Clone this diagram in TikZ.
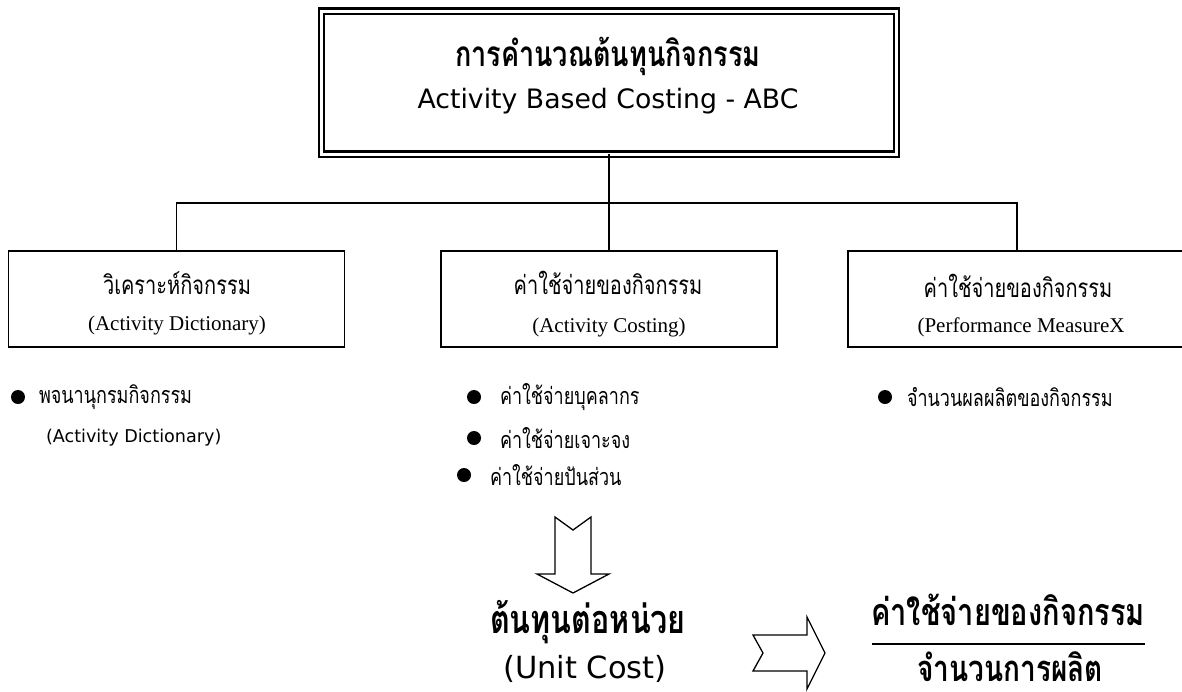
\documentclass[tikz,border=0pt]{standalone}
\usepackage{fontspec}
\usepackage{graphicx}
\setmainfont{Liberation Serif}
\newfontfamily\thaisans[Script=Thai]{Loma}
\newfontfamily\latinsans{DejaVu Sans}
\newcommand{\fs}[1]{\fontsize{#1}{#1}\selectfont}
% Thai lines are set a little taller than the face draws them
\newcommand{\tall}[1]{\scalebox{1}[1.3]{#1}}
\begin{document}
\begin{tikzpicture}[x=1pt,y=-1pt,
  every node/.style={inner sep=0pt, outer sep=0pt},
  titlebox/.style={draw, line width=2.2pt, double, double distance=3pt,
    minimum width=575pt, minimum height=143pt},
  topicbox/.style={draw, line width=1.6pt, minimum width=336pt, minimum height=96pt},
  link/.style={line width=1.5pt},
  dot/.style={circle, fill=black, minimum size=14pt},
  blockarrow/.style={draw, line width=1.3pt, fill=white, line join=miter},
  thaiserif/.style={font=\thaisans\fs{20}},
  latinserif/.style={font=\rmfamily\fs{21}},
  item/.style={anchor=west, font=\thaisans\fs{18}},
]
\useasboundingbox (0,0) rectangle (1182,691);

% title box with its double frame
\node[titlebox] (top) at (609,82.5) {};
\node[font=\thaisans\bfseries\fs{27}] (t1) at (608,56) {\tall{การคำนวณต้นทุนกิจกรรม}};
\node[font=\latinsans\fs{26.7}] (t2) at (608,101) {Activity Based Costing - ABC};

% three topic boxes
\node[topicbox] (left) at (176.5,299) {};
\node[topicbox] (mid) at (609,299) {};
\node[topicbox, minimum width=338pt] (right) at (1017,299) {};

\node[thaiserif] (l1) at (177,283) {\tall{วิเคราะห์กิจกรรม}};
\node[latinserif] (l2) at (177,325) {(Activity Dictionary)};
\node[thaiserif] (m1) at (608,283) {\tall{ค่าใช้จ่ายของกิจกรรม}};
\node[latinserif] (m2) at (609,327) {(Activity Costing)};
\node[thaiserif] (r1) at (1018,286) {\tall{ค่าใช้จ่ายของกิจกรรม}};
\node[latinserif] (r2) at (1021,327) {(Performance MeasureX};

% tree connectors
\coordinate (hub) at (609,203);
\draw[link] (top.south) -- (mid.north);
\draw[link] (left.north) |- (hub) -| (right.north);

% bullet lists
\node[dot] (d1) at (18,397) {};
\node[item] (i1) at (39,397) {\tall{พจนานุกรมกิจกรรม}};
\node[item, font=\latinsans\fs{17.6}] (i1b) at (46,438) {(Activity Dictionary)};

\node[dot] (d2) at (474,397) {};
\node[item] (i2) at (500,397) {\tall{ค่าใช้จ่ายบุคลากร}};
\node[dot] (d3) at (474,438) {};
\node[item] (i3) at (500,438) {\tall{ค่าใช้จ่ายเจาะจง}};
\node[dot] (d4) at (464,475) {};
\node[item] (i4) at (490,475) {\tall{ค่าใช้จ่ายปันส่วน}};

\node[dot] (d5) at (885,397) {};
\node[item] (i5) at (907,397) {\tall{จำนวนผลผลิตของกิจกรรม}};

% block arrows
\draw[blockarrow] (555,517) -- (573,530) -- (591,517) -- (591,574) -- (609,574)
  -- (573,593) -- (537,574) -- (555,574) -- cycle;
\draw[blockarrow] (753,635) -- (807,635) -- (807,617) -- (825,653) -- (807,689)
  -- (807,671) -- (753,671) -- (763,653) -- cycle;

% unit cost
\node[font=\thaisans\bfseries\fs{30.5}] (u1) at (588,622) {\tall{ต้นทุนต่อหน่วย}};
\node[font=\latinsans\fs{30.5}] (u2) at (585,669) {(Unit Cost)};

% cost per unit as a fraction
\node[font=\thaisans\bfseries\fs{29}] (num) at (1008,610) {\tall{ค่าใช้จ่ายของกิจกรรม}};
\node[font=\thaisans\bfseries\fs{28}, anchor=base] (den) at (1010,681)
  {\tall{จำนวนการผลิต}};
\coordinate (barL) at (872,644);
\coordinate (barR) at (1145,644);
\draw[line width=1.5pt] (barL) -- (barR);
\end{tikzpicture}
\end{document}
